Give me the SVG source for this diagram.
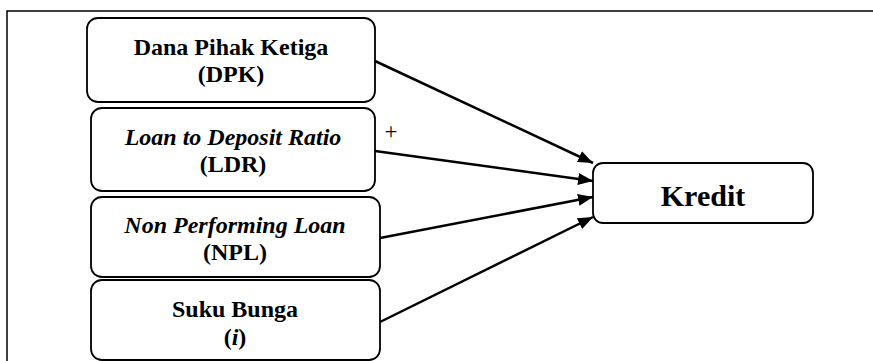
<svg xmlns="http://www.w3.org/2000/svg" width="873" height="361" viewBox="0 0 873 361">
<defs>
<style>
.box{fill:#fff;stroke:#000;stroke-width:1.8}
.t{font-weight:bold;font-size:24px;text-anchor:middle;fill:#000}
.it{font-style:italic}
.conn{stroke:#000;stroke-width:2.5;fill:none}
</style>
<marker id="ah" markerWidth="15" markerHeight="12" refX="15" refY="6" orient="auto" markerUnits="userSpaceOnUse">
<path d="M0,0 L15,6 L0,12 Z" fill="#000"/>
</marker>
</defs>
<rect x="0" y="0" width="873" height="361" fill="#fff"/>
<path d="M7,361 L7,11 L873,11" fill="none" stroke="#000" stroke-width="1.5"/>
<g font-family="Liberation Serif, Times New Roman, serif">
<g id="dpk">
<rect class="box" x="87" y="18" width="288" height="84" rx="11"/>
<text class="t" x="231" y="55">Dana Pihak Ketiga</text>
<text class="t" x="231" y="82">(DPK)</text>
</g>
<g id="ldr">
<rect class="box" x="91" y="108" width="284" height="83" rx="11"/>
<text class="t it" x="233" y="145">Loan to Deposit Ratio</text>
<text class="t" x="233" y="172">(LDR)</text>
</g>
<g id="npl">
<rect class="box" x="91" y="197" width="289" height="80" rx="11"/>
<text class="t it" x="235" y="233">Non Performing Loan</text>
<text class="t" x="235" y="260">(NPL)</text>
</g>
<g id="suku">
<rect class="box" x="91" y="280" width="289" height="80" rx="11"/>
<text class="t" x="235" y="317">Suku Bunga</text>
<text class="t" x="235" y="345">(<tspan font-style="italic">i</tspan>)</text>
</g>
<g id="kredit">
<rect class="box" x="593" y="163" width="220" height="60" rx="10"/>
<text class="t" x="703" y="206" style="font-size:30px">Kredit</text>
</g>
<g id="connectors">
<line class="conn" x1="375" y1="61" x2="593" y2="163" marker-end="url(#ah)"/>
<line class="conn" x1="375" y1="151" x2="593" y2="181" marker-end="url(#ah)"/>
<line class="conn" x1="380" y1="238" x2="593" y2="197" marker-end="url(#ah)"/>
<line class="conn" x1="380" y1="322" x2="593" y2="217" marker-end="url(#ah)"/>
<text x="391" y="139" font-size="23" text-anchor="middle">+</text>
</g>
</g>
</svg>
